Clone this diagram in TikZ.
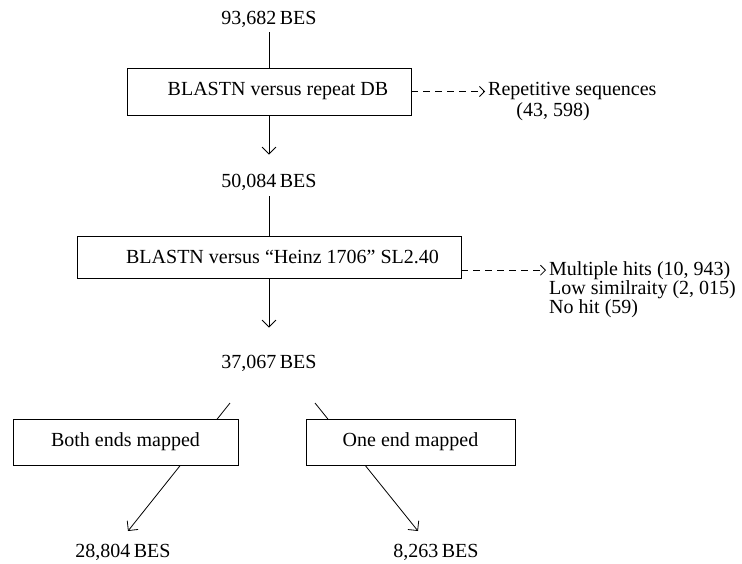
\documentclass[tikz,border=0pt]{standalone}
\usepackage{fontspec}
\setmainfont{Liberation Serif}
\usetikzlibrary{arrows.meta}
\begin{document}
\begin{tikzpicture}[x=1pt,y=-1pt,
  every node/.style={font=\fontsize{20}{24}\selectfont},
  lbl/.style={inner sep=3pt},
  procbox/.style={draw, fill=white, line width=0.9pt, inner sep=0pt, minimum height=#1},
  link/.style={line width=0.8pt},
  arr/.style={line width=0.8pt, -{Straight Barb[length=7pt,width=14pt]}},
  darr/.style={line width=0.8pt, dash pattern=on 7pt off 5pt, -{Straight Barb[length=5pt,width=10pt]}}]
\useasboundingbox[fill=white] (0,0) rectangle (742,563);

% main column
\node[lbl] (t1) at (269,19) {93,682\,BES};
\node[procbox=47, minimum width=284] (b1) at (269,91.5) {\hspace*{18pt}BLASTN versus repeat DB};
\node[lbl, anchor=west] (rep) at (485,91) {Repetitive sequences};
\node[lbl] (rnum) at (553,112) {(43, 598)};

\node[lbl] (t2) at (269,182) {50,084\,BES};
\node[procbox=42, minimum width=384] (b2) at (269,257) {\hspace*{27pt}BLASTN versus “Heinz 1706” SL2.40};
\node[lbl, anchor=base west] (mh) at (546,275) {Multiple hits (10, 943)};
\node[lbl, anchor=base west] (ls) at (546,294) {Low similraity (2, 015)};
\node[lbl, anchor=base west] (nh) at (546,313) {No hit (59)};

\node[lbl] (t3) at (269,363) {37,067\,BES};

% diagonal branches (drawn before the boxes that cover them)
\coordinate (dl) at (230,403);
\coordinate (el) at (128,531);
\coordinate (dr) at (315,403);
\coordinate (er) at (418,531);
\draw[arr] (dl) -- (el);
\draw[arr] (dr) -- (er);

\node[procbox=46, minimum width=225] (bl) at (125.5,442) {Both ends mapped};
\node[procbox=46, minimum width=209] (br) at (410.5,442) {One end mapped};

\node[lbl] (t4) at (123,552) {28,804\,BES};
\node[lbl] (t5) at (436,552) {8,263\,BES};

% connectors
\draw[link, shorten <=2pt] (t1) -- (b1);
\draw[arr, shorten >=16pt] (b1) -- (t2);
\draw[link, shorten <=3pt] (t2) -- (b2);
\draw[arr, shorten >=24pt] (b2) -- (t3);
\draw[darr] (b1.east) -- (b1.east -| rep.west);
\draw[darr] (b2.east |- mh.west) -- (mh.west);
\end{tikzpicture}
\end{document}
